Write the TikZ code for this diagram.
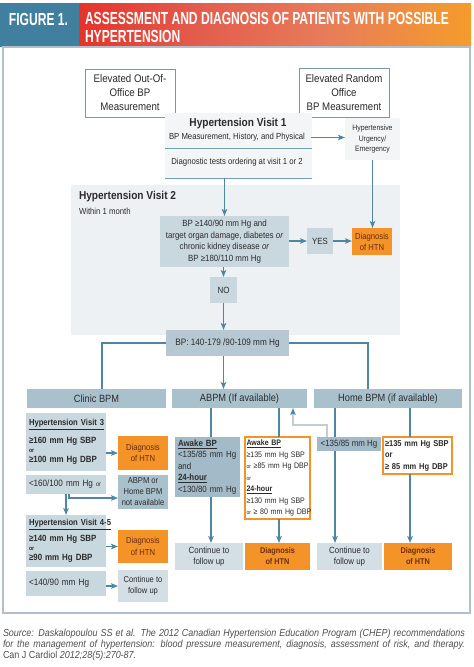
\documentclass[tikz,border=0pt]{standalone}
\usepackage{fontspec}
\setmainfont{Liberation Sans}[FakeStretch=0.88]
\newfontfamily\titlefont{Liberation Sans}[FakeStretch=0.69]
\usetikzlibrary{arrows.meta,calc}
\definecolor{hdrblue}{HTML}{417F9F}
\definecolor{hred}{HTML}{E5332A}
\definecolor{hmidA}{HTML}{E35C4D}
\definecolor{hmidB}{HTML}{E77D5A}
\definecolor{horange}{HTML}{F59C2B}
\definecolor{framec}{HTML}{AFC0CA}
\definecolor{linec}{HTML}{4F87A3}
\definecolor{elevc}{HTML}{7C98A8}
\definecolor{boxlight}{HTML}{C9D7DF}
\definecolor{boxmid}{HTML}{A9C0CD}
\definecolor{boxrange}{HTML}{B6C9D3}
\definecolor{boxawake}{HTML}{A3BBC8}
\definecolor{boxcont}{HTML}{D4DFE5}
\definecolor{vtwobg}{HTML}{EEF1F4}
\definecolor{vonebg}{HTML}{F3F5F7}
\definecolor{dxor}{HTML}{F39328}
\definecolor{dxtext}{HTML}{6E2C10}
\definecolor{txt}{HTML}{2B2B2B}
\definecolor{retc}{HTML}{C3CDD3}
\definecolor{srcc}{HTML}{505050}
\pgfdeclarehorizontalshading{titleshade}{100bp}{color(0bp)=(hred); color(25bp)=(hred); color(40bp)=(hmidA); color(57bp)=(hmidB); color(75bp)=(horange); color(100bp)=(horange)}
\newcommand\smallor{{\fontsize{5.8}{7}\selectfont or}}
\begin{document}
\begin{tikzpicture}[x=1pt,y=-1pt,
  every node/.style={text=txt, inner sep=0pt, outer sep=0pt},
  sz/.style 2 args={minimum width=#1pt, minimum height=#2pt},
  bx/.style={anchor=north west, align=center},
  lbx/.style={anchor=north west, align=left, inner xsep=3pt},
  arr/.style={draw=linec, line width=1.1pt, -{Stealth[length=7pt,width=5.5pt,inset=1.5pt]}},
  ln/.style={draw=linec, line width=1.1pt},
  ruleline/.style={draw=linec!80, line width=0.9pt},
  retl/.style={draw=retc, line width=1.1pt, -{Stealth[length=7pt,width=5.5pt,inset=1.5pt,color=linec]}},
  titletxt/.style={text=white, font=\titlefont\bfseries\fontsize{17.5}{19}\selectfont},
  dxbox/.style={fill=dxor, text=dxtext},
  obox/.style={draw=dxor, line width=1.4pt, fill=white},
]
\useasboundingbox (0,0) rectangle (474,667);
\fill[white] (0,0) rectangle (474,667);

% header
\fill[hdrblue] (0,3) rectangle (79,47);
\shade[shading=titleshade] (79,3) rectangle (471,47);
\node[titletxt, anchor=west] (fig) at (9,19) {FIGURE 1.};
\node[titletxt, anchor=west] (tone) at (85,18.5) {ASSESSMENT AND DIAGNOSIS OF PATIENTS WITH POSSIBLE};
\node[titletxt, anchor=west] (ttwo) at (85,36.5) {HYPERTENSION};

% frame
\draw[framec, line width=1.4pt] (3,47) rectangle (470,613);

% elevated boxes
\node[bx, sz={90}{48}, draw=elevc, line width=0.8pt, fill=white, font=\fontsize{11}{14}\selectfont] (eo) at (85,69) {Elevated Out-Of-\\Office BP\\Measurement};
\node[bx, sz={90}{49}, draw=elevc, line width=0.8pt, fill=white, font=\fontsize{11}{14}\selectfont] (er) at (299,68) {Elevated Random\\Office\\BP Measurement};

% visit 1
\fill[vonebg] (165,113) rectangle (312,178);
\node[font=\bfseries\fontsize{11.5}{13}\selectfont] (vonet) at (238,124) {Hypertension Visit 1};
\node[font=\fontsize{8.8}{10}\selectfont] (vones) at (237,137.5) {BP Measurement, History, and Physical};
\draw[ruleline] (165,148) -- (312,148);
\node[font=\fontsize{8.8}{10}\selectfont] (voned) at (237,162.5) {Diagnostic tests ordering at visit 1 or 2};
\draw[ruleline] (165,178) -- (312,178);

\node[bx, sz={55}{42}, fill=vonebg, font=\fontsize{7.8}{10.8}\selectfont] (hyp) at (345,118) {Hypertensive\\Urgency/\\Emergency};
\coordinate (vout) at (311,137.5);
\draw[arr] (vout) -- (hyp.west |- vout);

% visit 2
\fill[vtwobg] (71,185) rectangle (400,335);
\node[anchor=west, font=\bfseries\fontsize{11.5}{13}\selectfont] (vtwot) at (79,197) {Hypertension Visit 2};
\node[anchor=west, font=\fontsize{8.8}{10}\selectfont] (vtwos) at (79,211) {Within 1 month};

\node[bx, sz={129}{51}, fill=boxlight, font=\fontsize{9}{11.6}\selectfont] (cond) at (160,216) {BP ≥140/90 mm Hg and\\target organ damage, diabetes \textit{or}\\chronic kidney disease \textit{or}\\BP ≥180/110 mm Hg};
\coordinate (vbot) at (224.5,178);
\draw[arr] (vbot) -- (cond.north);

\node[bx, sz={26}{26}, fill=boxlight, font=\fontsize{9}{11}\selectfont] (yes) at (307,228) {YES};
\node[bx, sz={40}{27}, dxbox, font=\fontsize{8.7}{11}\selectfont] (dxa) at (352,228) {Diagnosis\\of HTN};
\draw[arr] (cond.east |- yes.west) -- (yes.west);
\draw[arr] (yes.east) -- (dxa.west |- yes.east);
\draw[arr] (hyp.south) -- (hyp.south |- dxa.north);

\node[bx, sz={27}{26}, fill=boxlight, font=\fontsize{9}{11}\selectfont] (no) at (210,277) {NO};
\draw[arr] (cond.south -| no.north) -- (no.north);
\node[bx, sz={123}{26}, fill=boxrange, font=\fontsize{9.3}{11}\selectfont] (range) at (166,330) {BP: 140-179 /90-109 mm Hg};
\draw[arr] (no.south) -- (no.south |- range.north);

% column headers
\node[bx, sz={139}{19}, fill=boxmid, font=\fontsize{10.5}{12}\selectfont] (clinic) at (27,389) {Clinic BPM};
\node[bx, sz={135}{19}, fill=boxmid, font=\fontsize{10.5}{12}\selectfont] (abpm) at (172,389) {ABPM (If available)};
\node[bx, sz={148}{19}, fill=boxmid, font=\fontsize{10.5}{12}\selectfont] (home) at (314,389) {Home BPM (if available)};

\coordinate (cx) at (102,0);
\coordinate (hx) at (368,0);
\draw[ln] (range.west) -| (clinic.north -| cx);
\draw[ln] (range.east) -| (home.north -| hx);
\draw[arr] (range.south -| no.south) -- (abpm.north -| no.south);

% clinic column
\node[lbx, sz={80}{58}, fill=boxlight, text width=74pt, font=\fontsize{9}{10.5}\selectfont] (vthree) at (26,413)
 {{\bfseries\fontsize{8.7}{10.5}\selectfont\underline{Hypertension Visit 3}}\\[7pt]\textbf{≥160 mm Hg SBP}\\[-1.5pt]{\bfseries\fontsize{6}{7}\selectfont or}\\\textbf{≥100 mm Hg DBP}};
\node[bx, sz={50}{34}, dxbox, font=\fontsize{8.7}{11.5}\selectfont] (dxb) at (118,436) {Diagnosis\\of HTN};
\draw[arr] (vthree.east |- dxb.west) -- (dxb.west);

\node[lbx, sz={80}{19}, fill=boxlight, text width=74pt, font=\fontsize{9.2}{11}\selectfont] (ltsix) at (26,475) {<160/100 mm Hg {\fontsize{6.5}{8}\selectfont or}};
\node[bx, sz={50}{34}, fill=boxmid, font=\fontsize{8.6}{11}\selectfont] (notav) at (118,475) {ABPM or\\Home BPM\\not available};

\node[lbx, sz={80}{52}, fill=boxlight, text width=74pt, font=\fontsize{9}{10.5}\selectfont] (vfour) at (26,515)
 {{\bfseries\fontsize{8.7}{10.5}\selectfont\underline{Hypertension Visit 4-5}}\\[5pt]\textbf{≥140 mm Hg SBP}\\[-1.5pt]{\bfseries\fontsize{6}{7}\selectfont or}\\\textbf{≥90 mm Hg DBP}};
\node[bx, sz={50}{33}, dxbox, font=\fontsize{8.7}{11.5}\selectfont] (dxc) at (118,530) {Diagnosis\\of HTN};
\draw[arr] (vfour.east |- dxc.west) -- (dxc.west);

\coordinate (lb) at (69,498);
\draw[arr] (ltsix.south -| vfour.north) -- (vfour.north);
\draw[arr] (ltsix.south -| lb) |- (notav.west |- lb);

\node[lbx, sz={80}{25}, fill=boxlight, text width=74pt, font=\fontsize{9.3}{11}\selectfont] (ltfour) at (26,571) {<140/90 mm Hg};
\node[bx, sz={50}{32}, fill=boxcont, font=\fontsize{8.6}{11.5}\selectfont] (conta) at (118,570) {Continue to\\follow up};
\draw[arr] (ltfour.east |- conta.west) -- (conta.west);

% ABPM column
\node[lbx, sz={65}{60}, fill=boxawake, text width=59pt, font=\fontsize{9}{11.5}\selectfont] (awka) at (175,437)
 {\textbf{\underline{Awake BP}}\\<135/85 mm Hg\\and\\\textbf{\underline{24-hour}}\\<130/80 mm Hg};
\node[lbx, sz={65}{82}, obox, inner xsep=1.5pt, text width=62pt, font=\fontsize{8}{11.5}\selectfont] (awkb) at (245,437)
 {\mbox{\textbf{\underline{Awake BP}}}\\\mbox{≥135 mm Hg SBP}\\\mbox{\smallor{} ≥85 mm Hg DBP}\\\mbox{\smallor}\\\mbox{\textbf{\underline{24-hour}}}\\\mbox{≥130 mm Hg SBP}\\\mbox{\smallor{} ≥ 80 mm Hg DBP}};
\node[bx, sz={68}{27}, fill=boxcont, font=\fontsize{9}{11.5}\selectfont] (contb) at (175,543) {Continue to\\follow up};
\node[bx, sz={65}{27}, dxbox, font=\bfseries\fontsize{8.3}{11}\selectfont] (dxd) at (245,543) {Diagnosis\\of HTN};

\coordinate (axa) at (211,0);
\coordinate (axb) at (279,0);
\draw[ln] (abpm.south -| axa) -- (awka.north -| axa);
\draw[arr] (awka.south -| axa) -- (contb.north -| axa);
\draw[ln] (abpm.south -| axb) -- (awkb.north -| axb);
\draw[arr] (awkb.south -| axb) -- (dxd.north -| axb);

% Home column
\node[bx, sz={64}{14}, fill=boxawake, font=\fontsize{9}{11}\selectfont] (hlt) at (317,437) {<135/85 mm Hg};
\node[lbx, sz={69}{37}, obox, inner xsep=2pt, text width=65pt, font=\bfseries\fontsize{8.5}{11.5}\selectfont] (hge) at (383,437)
 {≥135 mm Hg SBP\\or\\≥ 85 mm Hg DBP};
\node[bx, sz={65}{27}, fill=boxcont, font=\fontsize{9}{11.5}\selectfont] (contc) at (317,543) {Continue to\\follow up};
\node[bx, sz={68}{27}, dxbox, font=\bfseries\fontsize{8.3}{11}\selectfont] (dxe) at (384,543) {Diagnosis\\of HTN};

\coordinate (hxa) at (335,0);
\coordinate (hxb) at (410,0);
\draw[ln] (home.south -| hxa) -- (hlt.north -| hxa);
\draw[arr] (hlt.south -| hxa) -- (contc.north -| hxa);
\draw[ln] (home.south -| hxb) -- (hge.north -| hxb);
\draw[arr] (hge.south -| hxb) -- (dxe.north -| hxb);

\coordinate (rxa) at (327,0);
\coordinate (rxb) at (293,425);
\draw[retl] (hlt.north -| rxa) |- (rxb) -- (abpm.south -| rxb);

% source
\node[anchor=north west, text width=462pt, align=justify, text=srcc, font=\fontsize{10.2}{11}\selectfont] (src) at (3,629)
 {\tolerance=10000\textit{Source: Daskalopoulou SS et al. The 2012 Canadian Hypertension Education Program (CHEP) recommendations}\linebreak\textit{for the management of hypertension: blood pressure measurement, diagnosis, assessment of risk, and therapy.}\linebreak Can J Cardiol \textit{2012;28(5):270-87.}};
\end{tikzpicture}
\end{document}
